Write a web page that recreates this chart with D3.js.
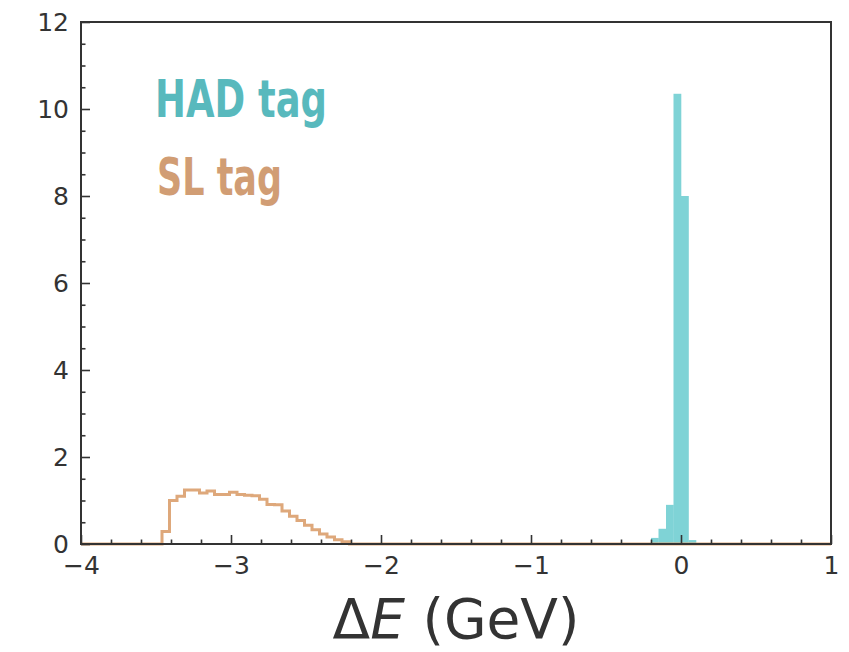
<!DOCTYPE html>
<html>
<head>
<meta charset="utf-8">
<script src="https://cdn.jsdelivr.net/npm/d3@7"></script>
<style>
  html, body { margin: 0; padding: 0; background: #fff; }
  svg { display: block; }
</style>
</head>
<body>
<svg id="chart" width="849" height="652"></svg>
<script>
// ---- data ----
const xDomain = [-4, 1];
const yDomain = [0, 12];
const xMajorTicks = [-4, -3, -2, -1, 0, 1];
const yMajorTicks = [0, 2, 4, 6, 8, 10, 12];
const binWidth = 0.05;

// HAD tag histogram (filled bars)
const hadStart = -0.2;
const hadValues = [0.14, 0.35, 0.9, 10.35, 8.0, 0.09];

// SL tag histogram (step outline)
const slStart = -3.46;
const slValues = [0.29, 1.0, 1.1, 1.24, 1.24, 1.17, 1.22, 1.14, 1.14, 1.19, 1.14, 1.12,
                  1.11, 1.03, 0.91, 0.9, 0.76, 0.64, 0.54, 0.43, 0.33, 0.23, 0.16, 0.1, 0.05];

const legendLabels = ["HAD tag", "SL tag"];
const xLabel = "E";

// ---- layout ----
const svg = d3.select("#chart");
const margin = {left: 81, right: 18, top: 22, bottom: 108};
const W = 849, H = 652;
const x = d3.scaleLinear().domain(xDomain).range([margin.left, W - margin.right]);
const y = d3.scaleLinear().domain(yDomain).range([H - margin.bottom, margin.top]);

const hadColor = "#7fd3d6";
const hadText = "#58b9bd";
const slColor = "#dea87b";
const slText = "#d19d74";
const axisColor = "#333";

// HAD bars
const hadBins = hadValues.map((v, i) => ({x0: hadStart + i * binWidth, x1: hadStart + (i + 1) * binWidth, v}));
svg.append("g").selectAll("rect").data(hadBins).join("rect")
  .attr("x", d => x(d.x0))
  .attr("width", d => x(d.x1) - x(d.x0) + 0.3)
  .attr("y", d => y(d.v))
  .attr("height", d => y(0) - y(d.v))
  .attr("fill", hadColor);

// SL step outline
const slPts = [[xDomain[0], 0], [slStart, 0]];
slValues.forEach((v, i) => {
  slPts.push([slStart + i * binWidth, v]);
  slPts.push([slStart + (i + 1) * binWidth, v]);
});
slPts.push([slStart + slValues.length * binWidth, 0]);
slPts.push([xDomain[1], 0]);
svg.append("path")
  .attr("d", d3.line().x(d => x(d[0])).y(d => y(d[1]))(slPts))
  .attr("fill", "none")
  .attr("stroke", slColor)
  .attr("stroke-width", 3)
  .attr("stroke-linejoin", "miter");

// axes
const fmt = d => d < 0 ? "\u2212" + Math.abs(d) : String(d);
const xMinor = d3.range(xDomain[0], xDomain[1] + 1e-9, 0.2).filter(v => Math.abs(v - Math.round(v)) > 1e-6);
const yMinor = d3.range(yDomain[0], yDomain[1] + 1e-9, 0.5).filter(v => Math.abs(v / 2 - Math.round(v / 2)) > 1e-6);

svg.append("g").attr("transform", `translate(0,${y(0)})`)
  .call(d3.axisBottom(x).tickValues(xMajorTicks).tickFormat(fmt).tickSize(-9).tickPadding(12));
svg.append("g").attr("transform", `translate(0,${y(0)})`)
  .call(d3.axisBottom(x).tickValues(xMinor).tickFormat("").tickSize(-4.5));
svg.append("g").attr("transform", `translate(${x(xDomain[0])},0)`)
  .call(d3.axisLeft(y).tickValues(yMajorTicks).tickFormat(fmt).tickSize(-9).tickPadding(12));
svg.append("g").attr("transform", `translate(${x(xDomain[0])},0)`)
  .call(d3.axisLeft(y).tickValues(yMinor).tickFormat("").tickSize(-4.5));

svg.selectAll(".domain").remove();
svg.selectAll(".tick line").attr("stroke", axisColor).attr("stroke-width", 1.6);
svg.selectAll(".tick text")
  .attr("fill", axisColor)
  .style("font-family", "'DejaVu Sans', sans-serif")
  .style("font-size", "25px");

// frame
svg.append("rect")
  .attr("x", x(xDomain[0])).attr("y", y(yDomain[1]))
  .attr("width", x(xDomain[1]) - x(xDomain[0]))
  .attr("height", y(yDomain[0]) - y(yDomain[1]))
  .attr("fill", "none").attr("stroke", axisColor).attr("stroke-width", 2);

// x label
const xl = svg.append("text")
  .attr("x", (x(xDomain[0]) + x(xDomain[1])) / 2)
  .attr("y", 638)
  .attr("text-anchor", "middle")
  .attr("fill", axisColor)
  .style("font-family", "'DejaVu Sans', sans-serif")
  .style("font-size", "55px");
xl.append("tspan").text("\u0394");
xl.append("tspan").style("font-style", "italic").text(xLabel);
xl.append("tspan").text(" (GeV)");

// legend labels
const legFont = "'DejaVu Sans', sans-serif";
svg.append("text").attr("x", 155).attr("y", 117)
  .attr("fill", hadText)
  .attr("textLength", 172).attr("lengthAdjust", "spacingAndGlyphs")
  .style("font-family", legFont).style("font-weight", "bold")
  .style("font-size", "52px").text(legendLabels[0]);
svg.append("text").attr("x", 157).attr("y", 195)
  .attr("fill", slText)
  .attr("textLength", 125).attr("lengthAdjust", "spacingAndGlyphs")
  .style("font-family", legFont).style("font-weight", "bold")
  .style("font-size", "52px").text(legendLabels[1]);
</script>
</body>
</html>
